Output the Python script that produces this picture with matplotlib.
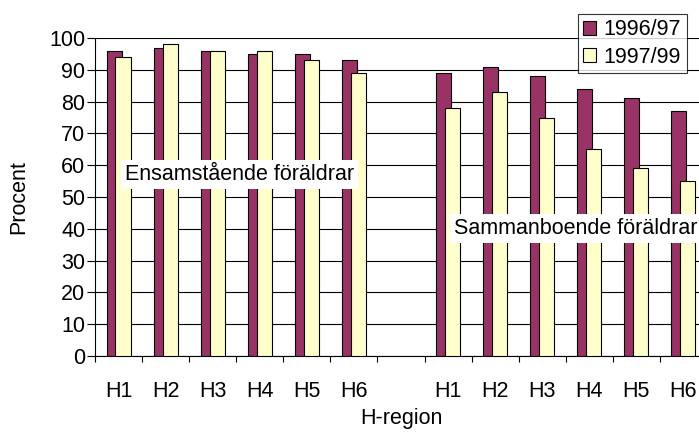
import matplotlib.pyplot as plt
import numpy as np

plt.rcParams['font.family'] = ['Liberation Sans', 'DejaVu Sans']

regions = ['H1', 'H2', 'H3', 'H4', 'H5', 'H6']
series_names = ['1996/97', '1997/99']
# ensamstående föräldrar
single_9697 = [96, 97, 96, 95, 95, 93]
single_9799 = [94, 98, 96, 96, 93, 89]
# sammanboende föräldrar
couple_9697 = [89, 91, 88, 84, 81, 77]
couple_9799 = [78, 83, 75, 65, 59, 55]
group_labels = ['Ensamstående föräldrar', 'Sammanboende föräldrar']

maroon = '#993366'
yellow = '#FFFFCC'
fs = 15.5

fig = plt.figure(figsize=(6.99, 4.32), dpi=100)
ax = fig.add_axes([0.1359, 0.1759, 0.8755, 0.7361])

# two groups of six categories with one empty slot between
pos = np.r_[np.arange(6), np.arange(7, 13)]
v1 = single_9697 + couple_9697
v2 = single_9799 + couple_9799
w = 0.32
ax.bar(pos - 0.095, v1, w, color=maroon, edgecolor='black', linewidth=0.8,
       label=series_names[0], zorder=2)
ax.bar(pos + 0.095, v2, w, color=yellow, edgecolor='black', linewidth=0.8,
       label=series_names[1], zorder=3)

ax.set_xlim(-0.5, 12.5)
ax.set_ylim(0, 100)
ax.set_yticks(range(0, 101, 10))
ax.yaxis.grid(True, color='black', linewidth=0.8, zorder=0)
ax.set_axisbelow(True)

ax.set_xticks(np.arange(-0.5, 13, 1))
ax.set_xticklabels([])
ax.set_xticks(pos, minor=True)
ax.set_xticklabels(regions + regions, minor=True)
ax.tick_params(axis='x', which='major', direction='out', length=4.5, width=0.8)
ax.tick_params(axis='x', which='minor', length=0, pad=18, labelsize=fs)
ax.tick_params(axis='y', direction='out', length=6, width=0.8, pad=1, labelsize=fs)

for s in ['top', 'right']:
    ax.spines[s].set_visible(False)
for s in ['left', 'bottom']:
    ax.spines[s].set_linewidth(0.8)

ax.set_ylabel('Procent', fontsize=fs)
ax.yaxis.set_label_coords(-0.108, 0.5)
ax.set_xlabel('H-region', fontsize=fs)
ax.xaxis.set_label_coords(0.5, -0.164)

box = dict(facecolor='white', edgecolor='none', pad=3)
ax.text(0.14, 57, group_labels[0], fontsize=fs, va='center', ha='left',
        bbox=box, zorder=5)
ax.text(7.12, 40, group_labels[1], fontsize=fs, va='center', ha='left',
        bbox=box, zorder=5)

leg = fig.legend(loc='upper left', bbox_to_anchor=(578 / 699, 1 - 14 / 432),
                 fontsize=fs, frameon=True, fancybox=False, shadow=False,
                 handlelength=0.6, handleheight=0.6, handletextpad=0.35,
                 borderpad=0.25, labelspacing=0.3, borderaxespad=0)
leg.get_frame().set_edgecolor('black')
leg.get_frame().set_linewidth(0.8)

fig.savefig('out.png', dpi=100)
